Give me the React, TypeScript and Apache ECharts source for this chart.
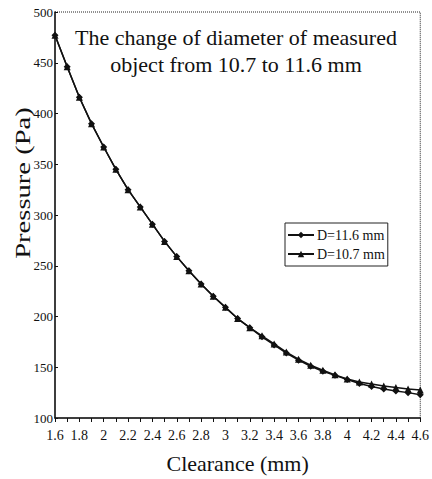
import React, { useEffect, useRef } from "react";
import * as echarts from "echarts";

const clearance = [1.6, 1.7, 1.8, 1.9, 2.0, 2.1, 2.2, 2.3, 2.4, 2.5, 2.6, 2.7, 2.8, 2.9, 3.0, 3.1, 3.2, 3.3, 3.4, 3.5, 3.6, 3.7, 3.8, 3.9, 4.0, 4.1, 4.2, 4.3, 4.4, 4.5, 4.6];
const pressureD116 = [477, 446, 416, 390, 367, 345, 325, 308, 291, 274, 259, 245, 232, 220, 209, 198, 189, 180, 172, 164, 157, 151, 146, 142, 138, 134, 131, 128.5, 126.5, 125, 123];
const pressureD107 = [477, 446, 416, 390, 367, 345, 325, 308, 291, 274, 259, 245, 232, 220, 209, 198, 189, 181, 173, 165, 158, 152, 147, 142.5, 138.5, 135.5, 133.5, 131.5, 130, 128.5, 127.5];
const seriesNames = ["D=11.6 mm", "D=10.7 mm"];
const titleLines = ["The change of diameter of measured", "object from 10.7 to 11.6 mm"];
const xAxisName = "Clearance (mm)";
const yAxisName = "Pressure (Pa)";

const FONT = "'Liberation Serif', 'Times New Roman', serif";

export default function App() {
  const ref = useRef<HTMLDivElement>(null);
  useEffect(() => {
    if (!ref.current) return;
    const chart = echarts.init(ref.current, null, { renderer: "svg" });
    const pairs = (vals: number[]) => clearance.map((x, i) => [x, vals[i]]);
    chart.setOption({
      animation: false,
      backgroundColor: "#fff",
      grid: {
        left: 55,
        right: 9,
        top: 12,
        bottom: 61,
        show: true,
        borderColor: "#222",
        borderWidth: 1,
        borderType: "dotted",
      },
      legend: {
        orient: "vertical",
        left: 285,
        top: 223,
        data: seriesNames,
        itemWidth: 26,
        itemHeight: 8,
        itemGap: 5,
        padding: [5, 3, 5, 2],
        borderColor: "#222",
        borderWidth: 1,
        borderRadius: 0,
        textStyle: { fontFamily: FONT, fontSize: 14, color: "#111", padding: [0, 0, 0, -2] },
      },
      xAxis: {
        type: "value",
        min: 1.6,
        max: 4.6,
        interval: 0.2,
        axisLine: { show: true, lineStyle: { color: "#111", width: 1.5 } },
        axisTick: { show: true, length: 4, lineStyle: { color: "#111" } },
        minorTick: { show: true, splitNumber: 2, length: 4, lineStyle: { color: "#111" } },
        splitLine: { show: false },
        axisLabel: {
          fontFamily: FONT,
          fontSize: 14,
          color: "#111",
          margin: 10,
          formatter: (v: number) => String(Math.round(v * 10) / 10),
        },
        name: xAxisName,
        nameLocation: "middle",
        nameGap: 34,
        nameTextStyle: { fontFamily: FONT, fontSize: 22, color: "#111" },
      },
      yAxis: {
        type: "value",
        min: 100,
        max: 500,
        interval: 50,
        axisLine: { show: true, lineStyle: { color: "#111", width: 1.5 } },
        axisTick: { show: true, inside: true, length: 3, lineStyle: { color: "#111" } },
        splitLine: { show: false },
        axisLabel: { fontFamily: FONT, fontSize: 13, color: "#111", margin: 2 },
      },
      graphic: [
        {
          type: "text",
          x: 23,
          y: 183,
          rotation: Math.PI / 2,
          scaleX: 1.3,
          style: {
            text: yAxisName,
            fontFamily: FONT,
            fontSize: 22,
            fill: "#111",
            textAlign: "center",
            textVerticalAlign: "middle",
          },
        },
        {
          type: "text",
          x: 236,
          y: 37,
          style: {
            text: titleLines[0],
            fontFamily: FONT,
            fontSize: 22,
            fill: "#111",
            textAlign: "center",
            textVerticalAlign: "middle",
          },
        },
        {
          type: "text",
          x: 236,
          y: 64,
          style: {
            text: titleLines[1],
            fontFamily: FONT,
            fontSize: 22,
            fill: "#111",
            textAlign: "center",
            textVerticalAlign: "middle",
          },
        },
      ],
      series: [
        {
          name: seriesNames[0],
          type: "line",
          data: pairs(pressureD116),
          symbol: "diamond",
          symbolSize: 7,
          lineStyle: { color: "#111", width: 1.5 },
          itemStyle: { color: "#111" },
        },
        {
          name: seriesNames[1],
          type: "line",
          data: pairs(pressureD107),
          symbol: "triangle",
          symbolSize: 7,
          lineStyle: { color: "#111", width: 1.5 },
          itemStyle: { color: "#111" },
        },
      ],
    });
    return () => chart.dispose();
  }, []);
  return (
    <div
      ref={ref}
      style={{ position: "fixed", left: 0, top: 0, width: 432, height: 479, background: "#fff" }}
    />
  );
}
